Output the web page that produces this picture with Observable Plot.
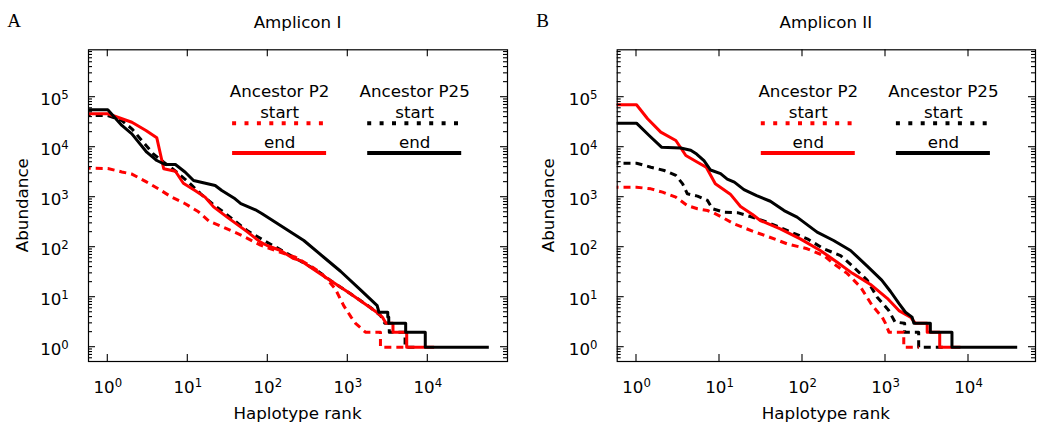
<!DOCTYPE html>
<html><head><meta charset="utf-8">
<script src="https://cdn.jsdelivr.net/npm/d3@7"></script>
<script src="https://cdn.jsdelivr.net/npm/@observablehq/plot@0.6"></script>
<style>
html,body{margin:0;padding:0;background:#fff;}
#fig{position:relative;width:1038px;height:430px;display:flex;background:#fff;}
</style></head><body><div id="fig"></div>
<script>
// ---------- data (rank, abundance) ----------
const rankTicks = [1, 10, 100, 1000, 10000];
const abundanceTicks = [1, 10, 100, 1000, 10000, 100000];
const legendGroups = ["Ancestor P2", "Ancestor P25"];
const legendRows = ["start", "end"];
const panelTitles = ["Amplicon I", "Amplicon II"];
const panelLetters = ["A", "B"];

const ampI_P2_start = [[0.5,3800],[1,3750],[1.5,3200],[2,2900],[3,2050],[4.3,1470],[6.3,1000],[9.3,740],[13.6,510],[18.5,330],[28,250],[48,170],[81,110],[144,79],[222,63],[359,40],[456,31],[552,23],[700,14.5],[888,6.8],[1100,4],[1250,3],[1660,2],[2560,2],[2560,1],[5600,1]];
const ampI_P2_end = [[0.5,46600],[1,46600],[2,31600],[3,21600],[4.1,15400],[5,3700],[7,3300],[8.8,1900],[12.3,1360],[16.5,1000],[21,640],[31,400],[55,205],[81,126],[98,108],[144,86],[211,59],[256,54],[456,29],[607,21.6],[1080,11.7],[1750,6.8],[2300,5],[2700,4],[3000,3],[3670,3],[3670,2],[5450,2],[5450,1],[12000,1]];
const ampI_P25_start = [[0.5,43000],[1,43000],[1.5,34200],[2,23300],[2.66,13600],[3.7,7380],[5,5010],[7.3,3160],[10.2,2000],[14.5,1170],[21.5,682],[28.2,501],[55,216],[98,126],[211,63],[414,34],[607,21.6],[1080,11.7],[1900,6.3],[2560,4.3],[2900,3],[3300,3],[3300,2],[5200,2],[5200,1],[7000,1]];
const ampI_P25_end = [[0.5,56000],[1,56000],[1.5,27200],[2,18500],[3.07,7940],[4.1,5420],[5.2,4510],[7,4510],[9.3,3160],[11.8,2160],[22,1710],[26.6,1360],[39,929],[46,740],[70,560],[85,466],[144,272],[282,136],[501,63],[811,33],[1442,14],[2330,6.8],[2450,5],[3160,5],[3160,4],[3250,4],[3250,3],[5290,3],[5290,2],[9300,2],[9300,1],[57900,1]];

const ampII_P2_start = [[0.5,1585],[1,1585],[1.49,1470],[2.06,1260],[2.98,1000],[4.1,680],[5.43,586],[7.17,542],[8.6,480],[11.3,380],[14.9,294],[25.9,205],[37.7,165],[65,117],[114,93],[180,68],[237,47],[345,30],[500,16],[692,6.8],[912,4],[1000,3],[1100,2],[1660,2],[1660,1],[2510,1]];
const ampII_P2_end = [[0.5,70500],[1,70500],[1.36,37000],[1.96,20000],[2.98,13600],[3.93,6820],[5.43,5010],[6.9,4000],[8.9,1850],[13.5,1150],[17.9,650],[25,450],[31,342],[54,233],[94,147],[164,86],[262,50],[400,30],[660,18],[1050,9.5],[1450,5.4],[2000,4],[2300,3],[3180,3],[3180,2],[4500,2],[4500,1],[8000,1]];
const ampII_P25_start = [[0.5,4790],[1,4790],[1.49,3980],[2.16,3420],[2.98,2720],[3.6,1850],[4.1,1170],[5.43,1050],[7.17,860],[8.2,590],[11.4,501],[16.5,490],[23.6,410],[37.7,316],[65,216],[114,147],[180,93],[287,68],[400,42],[600,22],[794,10],[1096,5.4],[1300,3.2],[1700,3],[1700,2],[2510,2],[2510,1],[5000,1]];
const ampII_P25_end = [[0.5,30200],[1,30200],[1.42,17100],[2,10000],[3.4,9600],[4.5,8700],[5.3,7300],[6.5,5400],[7.8,3500],[10.3,2950],[12.4,2300],[15.1,2000],[19.7,1420],[28,1080],[41,830],[60,540],[86,400],[150,200],[237,136],[379,86],[602,42],[900,22],[1150,13],[1450,7.5],[1740,5],[2090,4],[2200,3],[3470,3],[3470,2],[6320,2],[6320,1],[38600,1]];

// ---------- layout / style ----------
const W = 519, H = 430, MT = 49.3, MB = 69;
const RED = "#ff0000", BLACK = "#000000";
const FONT = "DejaVu Sans", FS = 16.7, SUPFS = 11.7;
const yDomain = [0.5176, 887000];
const expFmt = d => String(Math.round(Math.log10(d)));

function panel(cfg) {
  const styles = [
    {values: cfg.p25s, stroke: BLACK, dash: "7,5"},
    {values: cfg.p2s, stroke: RED, dash: "7,5"},
    {values: cfg.p2e, stroke: RED, dash: null},
    {values: cfg.p25e, stroke: BLACK, dash: null}
  ];
  const lines = styles.map(s => Plot.line(s.values, {
    x: d => d[0], y: d => d[1], stroke: s.stroke, strokeWidth: 3,
    ...(s.dash ? {strokeDasharray: s.dash} : {}),
    strokeLinecap: "butt", strokeLinejoin: "round", clip: true
  }));
  const chart = Plot.plot({
    width: W, height: H,
    marginTop: MT, marginBottom: MB, marginLeft: cfg.ml, marginRight: cfg.mr,
    style: {fontFamily: FONT, fontSize: FS + "px", color: "black", background: "white"},
    x: {type: "log", domain: cfg.xDomain},
    y: {type: "log", domain: yDomain},
    marks: [
      ...lines,
      Plot.frame({stroke: "black", strokeWidth: 1.2}),
      Plot.axisX(rankTicks, {anchor: "bottom", tickSize: 0, tickPadding: 20, tickFormat: expFmt, label: null, fill: "black"}),
      Plot.axisY(abundanceTicks, {anchor: "left", tickSize: 0, tickPadding: 19.7, dy: 2.7, tickFormat: expFmt, label: null, fill: "black"})
    ]
  });

  const svg = d3.select(chart);
  const sx = chart.scale("x"), sy = chart.scale("y");
  const X = v => sx.apply(v), Y = v => sy.apply(v);
  const x0 = cfg.ml, x1 = W - cfg.mr, y0 = MT, y1 = H - MB;

  // superscript tick labels 10^k
  svg.selectAll('g[aria-label="x-axis tick label"] text, g[aria-label="y-axis tick label"] text').each(function () {
    const e = this.textContent;
    const t = d3.select(this);
    t.text(null);
    t.append("tspan").text("10");
    t.append("tspan").attr("font-size", SUPFS).attr("dy", -6.3).text(e);
  });

  // inward ticks
  const tg = svg.append("g").attr("stroke", "black").attr("stroke-width", 1.1);
  for (const t of rankTicks) {
    const px = X(t);
    if (px < x0 || px > x1) continue;
    tg.append("line").attr("x1", px).attr("x2", px).attr("y1", y1).attr("y2", y1 - 7);
    tg.append("line").attr("x1", px).attr("x2", px).attr("y1", y0).attr("y2", y0 + 7);
  }
  for (let k = -1; k <= 6; k++) {
    for (let m = 1; m <= 9; m++) {
      const v = m * Math.pow(10, k);
      const py = Y(v);
      if (py < y0 - 0.1 || py > y1 + 0.1) continue;
      const len = m === 1 ? 7 : 4;
      tg.append("line").attr("x1", x0).attr("x2", x0 + len).attr("y1", py).attr("y2", py);
      tg.append("line").attr("x1", x1).attr("x2", x1 - len).attr("y1", py).attr("y2", py);
    }
  }

  const ann = svg.append("g").attr("font-family", FONT).attr("font-size", FS).attr("fill", "black");
  // panel letter
  ann.append("text").attr("x", x0 - 74).attr("y", 27)
    .attr("font-family", "Liberation Serif").attr("font-size", 19).text(cfg.letter);
  // title
  ann.append("text").attr("x", (x0 + x1) / 2).attr("y", 28).attr("text-anchor", "middle").text(cfg.title);
  // axis labels
  ann.append("text").attr("x", (x0 + x1) / 2).attr("y", 419).attr("text-anchor", "middle").text("Haplotype rank");
  ann.append("text").attr("text-anchor", "middle")
    .attr("transform", `translate(${x0 - cfg.ylab},${(y0 + y1) / 2}) rotate(-90)`).text("Abundance");

  // legend
  const colors = [RED, BLACK];
  const offs = [191.6, 326.7];
  legendGroups.forEach((g, i) => {
    const c = x0 + offs[i];
    ann.append("text").attr("x", c).attr("y", 97.3).attr("text-anchor", "middle").text(g);
    ann.append("text").attr("x", c).attr("y", 118.3).attr("text-anchor", "middle").text(legendRows[0]);
    ann.append("text").attr("x", c).attr("y", 148.3).attr("text-anchor", "middle").text(legendRows[1]);
    svg.append("line").attr("x1", c - 47.5).attr("x2", c + 46.5).attr("y1", 123.3).attr("y2", 123.3)
      .attr("stroke", colors[i]).attr("stroke-width", 4).attr("stroke-dasharray", "4,8.4");
    svg.append("line").attr("x1", c - 47.5).attr("x2", c + 46.5).attr("y1", 153).attr("y2", 153)
      .attr("stroke", colors[i]).attr("stroke-width", 4);
  });
  return chart;
}

const fig = document.getElementById("fig");
fig.appendChild(panel({
  letter: panelLetters[0], title: panelTitles[0],
  p2s: ampI_P2_start, p2e: ampI_P2_end, p25s: ampI_P25_start, p25e: ampI_P25_end,
  xDomain: [0.574, 99140], ml: 88, mr: 12, ylab: 60
}));
fig.appendChild(panel({
  letter: panelLetters[1], title: panelTitles[1],
  p2s: ampII_P2_start, p2e: ampII_P2_end, p25s: ampII_P25_start, p25e: ampII_P25_end,
  xDomain: [0.5855, 64150], ml: 97.7, mr: 3, ylab: 63
}));
</script></body></html>
